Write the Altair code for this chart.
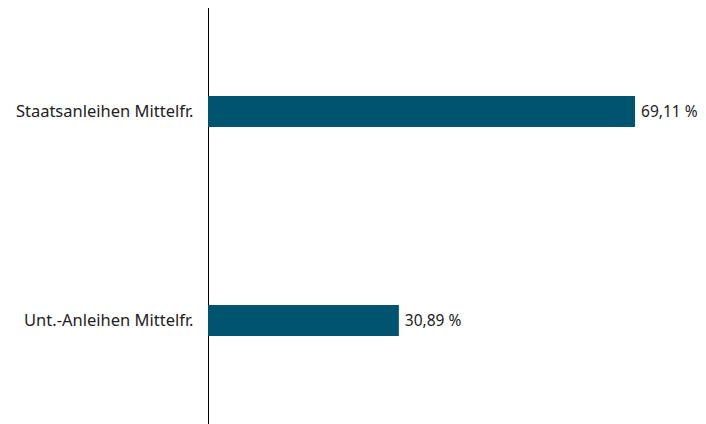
import altair as alt
import pandas as pd

categories = ["Staatsanleihen Mittelfr.", "Unt.-Anleihen Mittelfr."]
values = [69.11, 30.89]

df = pd.DataFrame({"cat": categories, "val": values})
df["label"] = [f"{v:.2f}".replace(".", ",") + " %" for v in values]

FONT = "Noto Sans"

y = alt.Y("cat:N", sort=categories,
          scale=alt.Scale(paddingInner=0, paddingOuter=0),
          axis=alt.Axis(title=None, ticks=False, grid=False, domainColor="#000000",
                        domainWidth=1, labelFont=FONT, labelFontSize=16.5,
                        labelColor="#222222", labelPadding=15, labelLimit=400))
x = alt.X("val:Q", scale=alt.Scale(domain=[0, 79.3], nice=False), axis=None)

bars = alt.Chart(df).mark_bar(size=31, color="#00546F").encode(x=x, y=y)
text = alt.Chart(df).mark_text(align="left", baseline="middle", dx=6, font=FONT,
                               fontSize=15.5, color="#222222").encode(x=x, y=y, text="label:N")

chart = (bars + text).properties(
    width=490, height=418,
    autosize=alt.AutoSizeParams(type="none"),
    padding={"left": 200, "top": -1, "right": 0, "bottom": 0},
).configure_view(stroke=None)

chart.save("out.html", embed_options={"renderer": "svg", "actions": False})
